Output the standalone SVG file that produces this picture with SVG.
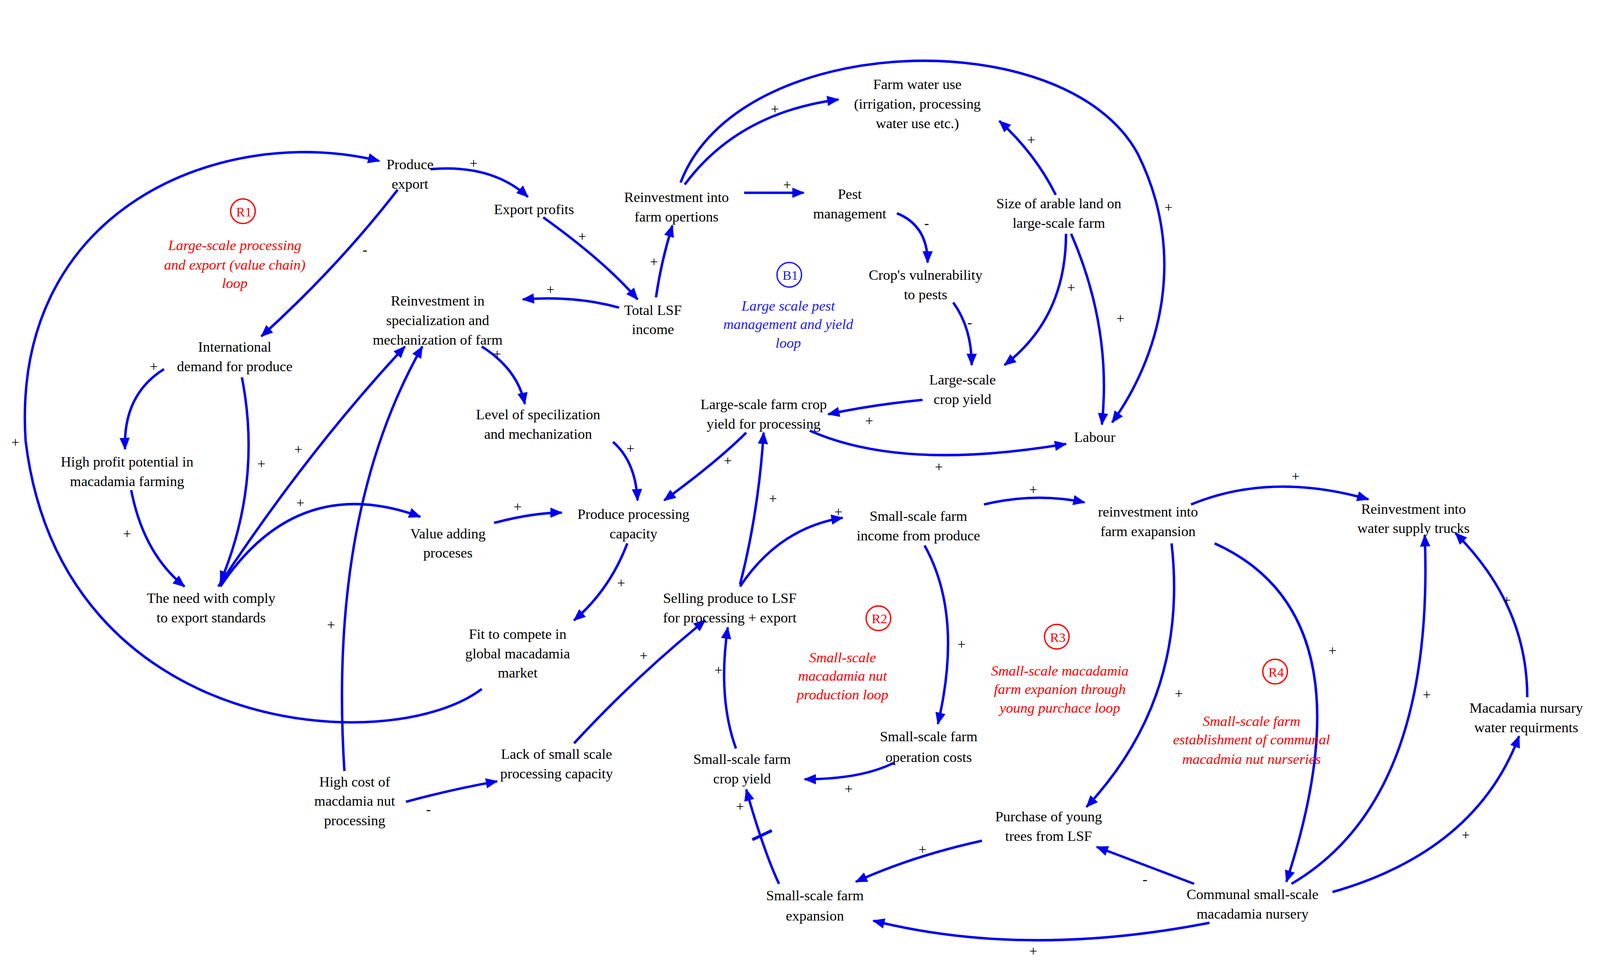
<svg xmlns="http://www.w3.org/2000/svg" width="4114" height="2485" viewBox="0 0 4114 2485">
<style>
text{font-family:"Liberation Serif",serif;font-size:14px;fill:#000;text-anchor:middle}
.s{font-size:13px}
.lr{fill:#ff0000;font-style:italic}
.lb{fill:#1a1aff;font-style:italic}
.e path{fill:none;stroke:#0000ee;stroke-width:2.4;marker-end:url(#a)}
.p{font-size:13px;fill:#333}
</style>
<defs><marker id="a" markerUnits="userSpaceOnUse" markerWidth="12" markerHeight="10" refX="11" refY="5" orient="auto"><path d="M0,0 L12,5 L0,10 z" fill="#0000ee"/></marker></defs>
<rect width="4114" height="2485" fill="#fff"/>
<g transform="scale(2.624)">
<g class="e" id="connectors">
<path d="M470,672 C380,740 60,720 25,430 C10,200 220,120 370,157"/>
<path d="M420,165 Q480,160 515,192"/>
<path d="M388,185 Q330,260 255,328"/>
<path d="M530,212 Q590,255 622,292"/>
<path d="M640,290 Q645,255 656,220"/>
<path d="M604,300 Q560,288 510,292"/>
<path d="M668,180 Q720,110 818,97"/>
<path d="M726,188 L784,188"/>
<path d="M664,178 C720,30 1040,20 1110,150 C1160,250 1130,350 1085,412"/>
<path d="M875,208 Q905,220 905,256"/>
<path d="M930,295 Q948,320 948,356"/>
<path d="M1030,190 Q1010,150 975,118"/>
<path d="M1040,228 Q1040,310 980,356"/>
<path d="M1045,228 Q1085,320 1075,414"/>
<path d="M900,390 Q850,395 808,404"/>
<path d="M790,420 Q880,460 1040,433"/>
<path d="M728,422 Q700,450 648,488"/>
<path d="M722,570 Q740,500 745,422"/>
<path d="M470,338 Q505,360 512,394"/>
<path d="M598,431 Q620,450 622,488"/>
<path d="M482,510 Q520,500 548,500"/>
<path d="M612,530 Q595,575 560,605"/>
<path d="M215,572 Q290,460 410,504"/>
<path d="M213,572 Q300,440 395,338"/>
<path d="M236,368 Q256,470 215,568"/>
<path d="M160,360 Q120,385 122,438"/>
<path d="M128,478 Q140,540 180,572"/>
<path d="M336,752 Q320,500 412,338"/>
<path d="M396,782 Q440,770 485,762"/>
<path d="M560,725 Q620,660 688,605"/>
<path d="M722,572 Q760,515 822,505"/>
<path d="M960,492 Q1010,480 1058,490"/>
<path d="M1162,492 Q1240,460 1335,487"/>
<path d="M902,532 Q940,600 915,706"/>
<path d="M872,744 Q840,760 785,760"/>
<path d="M718,730 Q700,680 710,612"/>
<path d="M760,862 Q745,830 728,770"/>
<path d="M958,820 Q890,835 835,860"/>
<path d="M1143,530 Q1160,680 1060,787"/>
<path d="M1185,530 Q1340,600 1255,860"/>
<path d="M1260,862 Q1400,780 1390,522"/>
<path d="M1165,862 Q1120,845 1070,826"/>
<path d="M1300,870 Q1440,830 1482,718"/>
<path d="M1490,680 Q1490,590 1420,520"/>
<path d="M1180,900 Q1000,935 852,898"/>
<line x1="734" y1="819" x2="753" y2="810" stroke="#0000ee" stroke-width="3"/>
</g>
<g id="polarities" class="p">
<text x="15" y="436">+</text><text x="462" y="164">+</text><text x="356" y="248">-</text><text x="568" y="235">+</text>
<text x="638" y="260">+</text><text x="537" y="287">+</text><text x="756" y="111">+</text><text x="768" y="185">+</text>
<text x="1140" y="207">+</text><text x="904" y="222">-</text><text x="946" y="319">-</text><text x="1006" y="141">+</text>
<text x="1045" y="285">+</text><text x="1093" y="315">+</text><text x="848" y="415">+</text><text x="916" y="460">+</text>
<text x="710" y="454">+</text><text x="754" y="491">+</text><text x="485" y="350">+</text><text x="615" y="442">+</text>
<text x="505" y="499">+</text><text x="606" y="573">+</text><text x="293" y="495">+</text><text x="291" y="443">+</text>
<text x="255" y="457">+</text><text x="150" y="362">+</text><text x="124" y="525">+</text><text x="323" y="614">+</text>
<text x="418" y="794">-</text><text x="628" y="644">+</text><text x="818" y="504">+</text><text x="1008" y="482">+</text>
<text x="1264" y="469">+</text><text x="938" y="633">+</text><text x="828" y="774">+</text><text x="701" y="658">+</text>
<text x="722" y="791">+</text><text x="900" y="833">+</text><text x="1150" y="681">+</text><text x="1300" y="639">+</text>
<text x="1392" y="682">+</text><text x="1117" y="862">-</text><text x="1430" y="819">+</text><text x="1470" y="590">+</text>
<text x="1008" y="932">+</text>
</g>
<g id="n1"><text x="400" y="165">Produce</text><text x="400" y="184">export</text></g>
<g id="n2"><text x="521" y="209">Export profits</text></g>
<g id="n3"><text x="660" y="197">Reinvestment into</text><text x="660" y="216">farm opertions</text></g>
<g id="n4"><text x="829" y="194">Pest</text><text x="829" y="213">management</text></g>
<g id="n5"><text x="895" y="87">Farm water use</text><text x="895" y="106">(irrigation, processing</text><text x="895" y="125">water use etc.)</text></g>
<g id="n6"><text x="1033" y="203">Size of arable land on</text><text x="1033" y="222">large-scale farm</text></g>
<g id="n7"><text x="903" y="273">Crop's vulnerability</text><text x="903" y="292">to pests</text></g>
<g id="n8"><text x="637" y="307">Total LSF</text><text x="637" y="326">income</text></g>
<g id="n9"><text x="427" y="298">Reinvestment in</text><text x="427" y="317">specialization and</text><text x="427" y="336">mechanization of farm</text></g>
<g id="n10"><text x="229" y="343">International</text><text x="229" y="362">demand for produce</text></g>
<g id="n11"><text x="939" y="375">Large-scale</text><text x="939" y="394">crop yield</text></g>
<g id="n12"><text x="745" y="399">Large-scale farm crop</text><text x="745" y="418">yield for processing</text></g>
<g id="n13"><text x="1068" y="431">Labour</text></g>
<g id="n14"><text x="525" y="409">Level of specilization</text><text x="525" y="428">and mechanization</text></g>
<g id="n15"><text x="124" y="455">High profit potential in</text><text x="124" y="474">macadamia farming</text></g>
<g id="n16"><text x="618" y="506">Produce processing</text><text x="618" y="525">capacity</text></g>
<g id="n17"><text x="437" y="525">Value adding</text><text x="437" y="544">proceses</text></g>
<g id="n18"><text x="896" y="508">Small-scale farm</text><text x="896" y="527">income from produce</text></g>
<g id="n19"><text x="1120" y="504">reinvestment into</text><text x="1120" y="523">farm exapansion</text></g>
<g id="n20"><text x="1379" y="501">Reinvestment into</text><text x="1379" y="520">water supply trucks</text></g>
<g id="n21"><text x="206" y="588">The need with comply</text><text x="206" y="607">to export standards</text></g>
<g id="n22"><text x="712" y="588">Selling produce to LSF</text><text x="712" y="607">for processing + export</text></g>
<g id="n23"><text x="505" y="623">Fit to compete in</text><text x="505" y="642">global macadamia</text><text x="505" y="661">market</text></g>
<g id="n24"><text x="1489" y="695">Macadamia nursary</text><text x="1489" y="714">water requirments</text></g>
<g id="n25"><text x="906" y="723">Small-scale farm</text><text x="906" y="743">operation costs</text></g>
<g id="n26"><text x="543" y="740">Lack of small scale</text><text x="543" y="759">processing capacity</text></g>
<g id="n27"><text x="724" y="745">Small-scale farm</text><text x="724" y="764">crop yield</text></g>
<g id="n28"><text x="346" y="767">High cost of</text><text x="346" y="786">macdamia nut</text><text x="346" y="805">processing</text></g>
<g id="n29"><text x="1023" y="801">Purchase of young</text><text x="1023" y="820">trees from LSF</text></g>
<g id="n30"><text x="795" y="878">Small-scale farm</text><text x="795" y="898">expansion</text></g>
<g id="n31"><text x="1222" y="877">Communal small-scale</text><text x="1222" y="896">macadamia nursery</text></g>
<g id="loops">
<circle cx="237" cy="206" r="12" fill="none" stroke="#ff0000" stroke-width="1.3"/><text class="lr s" x="238" y="211" style="font-style:normal">R1</text>
<text class="lr" x="229" y="244">Large-scale processing</text><text class="lr" x="229" y="263">and export (value chain)</text><text class="lr" x="229" y="281">loop</text>
<circle cx="770" cy="268" r="12" fill="none" stroke="#1a1aff" stroke-width="1.3"/><text class="lb s" x="771" y="273" style="font-style:normal">B1</text>
<text class="lb" x="769" y="303">Large scale pest</text><text class="lb" x="769" y="321">management and yield</text><text class="lb" x="769" y="339">loop</text>
<circle cx="857" cy="603" r="12" fill="none" stroke="#ff0000" stroke-width="1.3"/><text class="lr s" x="858" y="608" style="font-style:normal">R2</text>
<text class="lr" x="822" y="646">Small-scale</text><text class="lr" x="822" y="664">macadamia nut</text><text class="lr" x="822" y="682">production loop</text>
<circle cx="1031" cy="621" r="12" fill="none" stroke="#ff0000" stroke-width="1.3"/><text class="lr s" x="1032" y="626" style="font-style:normal">R3</text>
<text class="lr" x="1034" y="659">Small-scale macadamia</text><text class="lr" x="1034" y="677">farm expanion through</text><text class="lr" x="1034" y="695">young purchace loop</text>
<circle cx="1244" cy="655" r="12" fill="none" stroke="#ff0000" stroke-width="1.3"/><text class="lr s" x="1245" y="660" style="font-style:normal">R4</text>
<text class="lr" x="1221" y="708">Small-scale farm</text><text class="lr" x="1221" y="726">establishment of communal</text><text class="lr" x="1221" y="745">macadmia nut nurseries</text>
</g>
</g>
</svg>
